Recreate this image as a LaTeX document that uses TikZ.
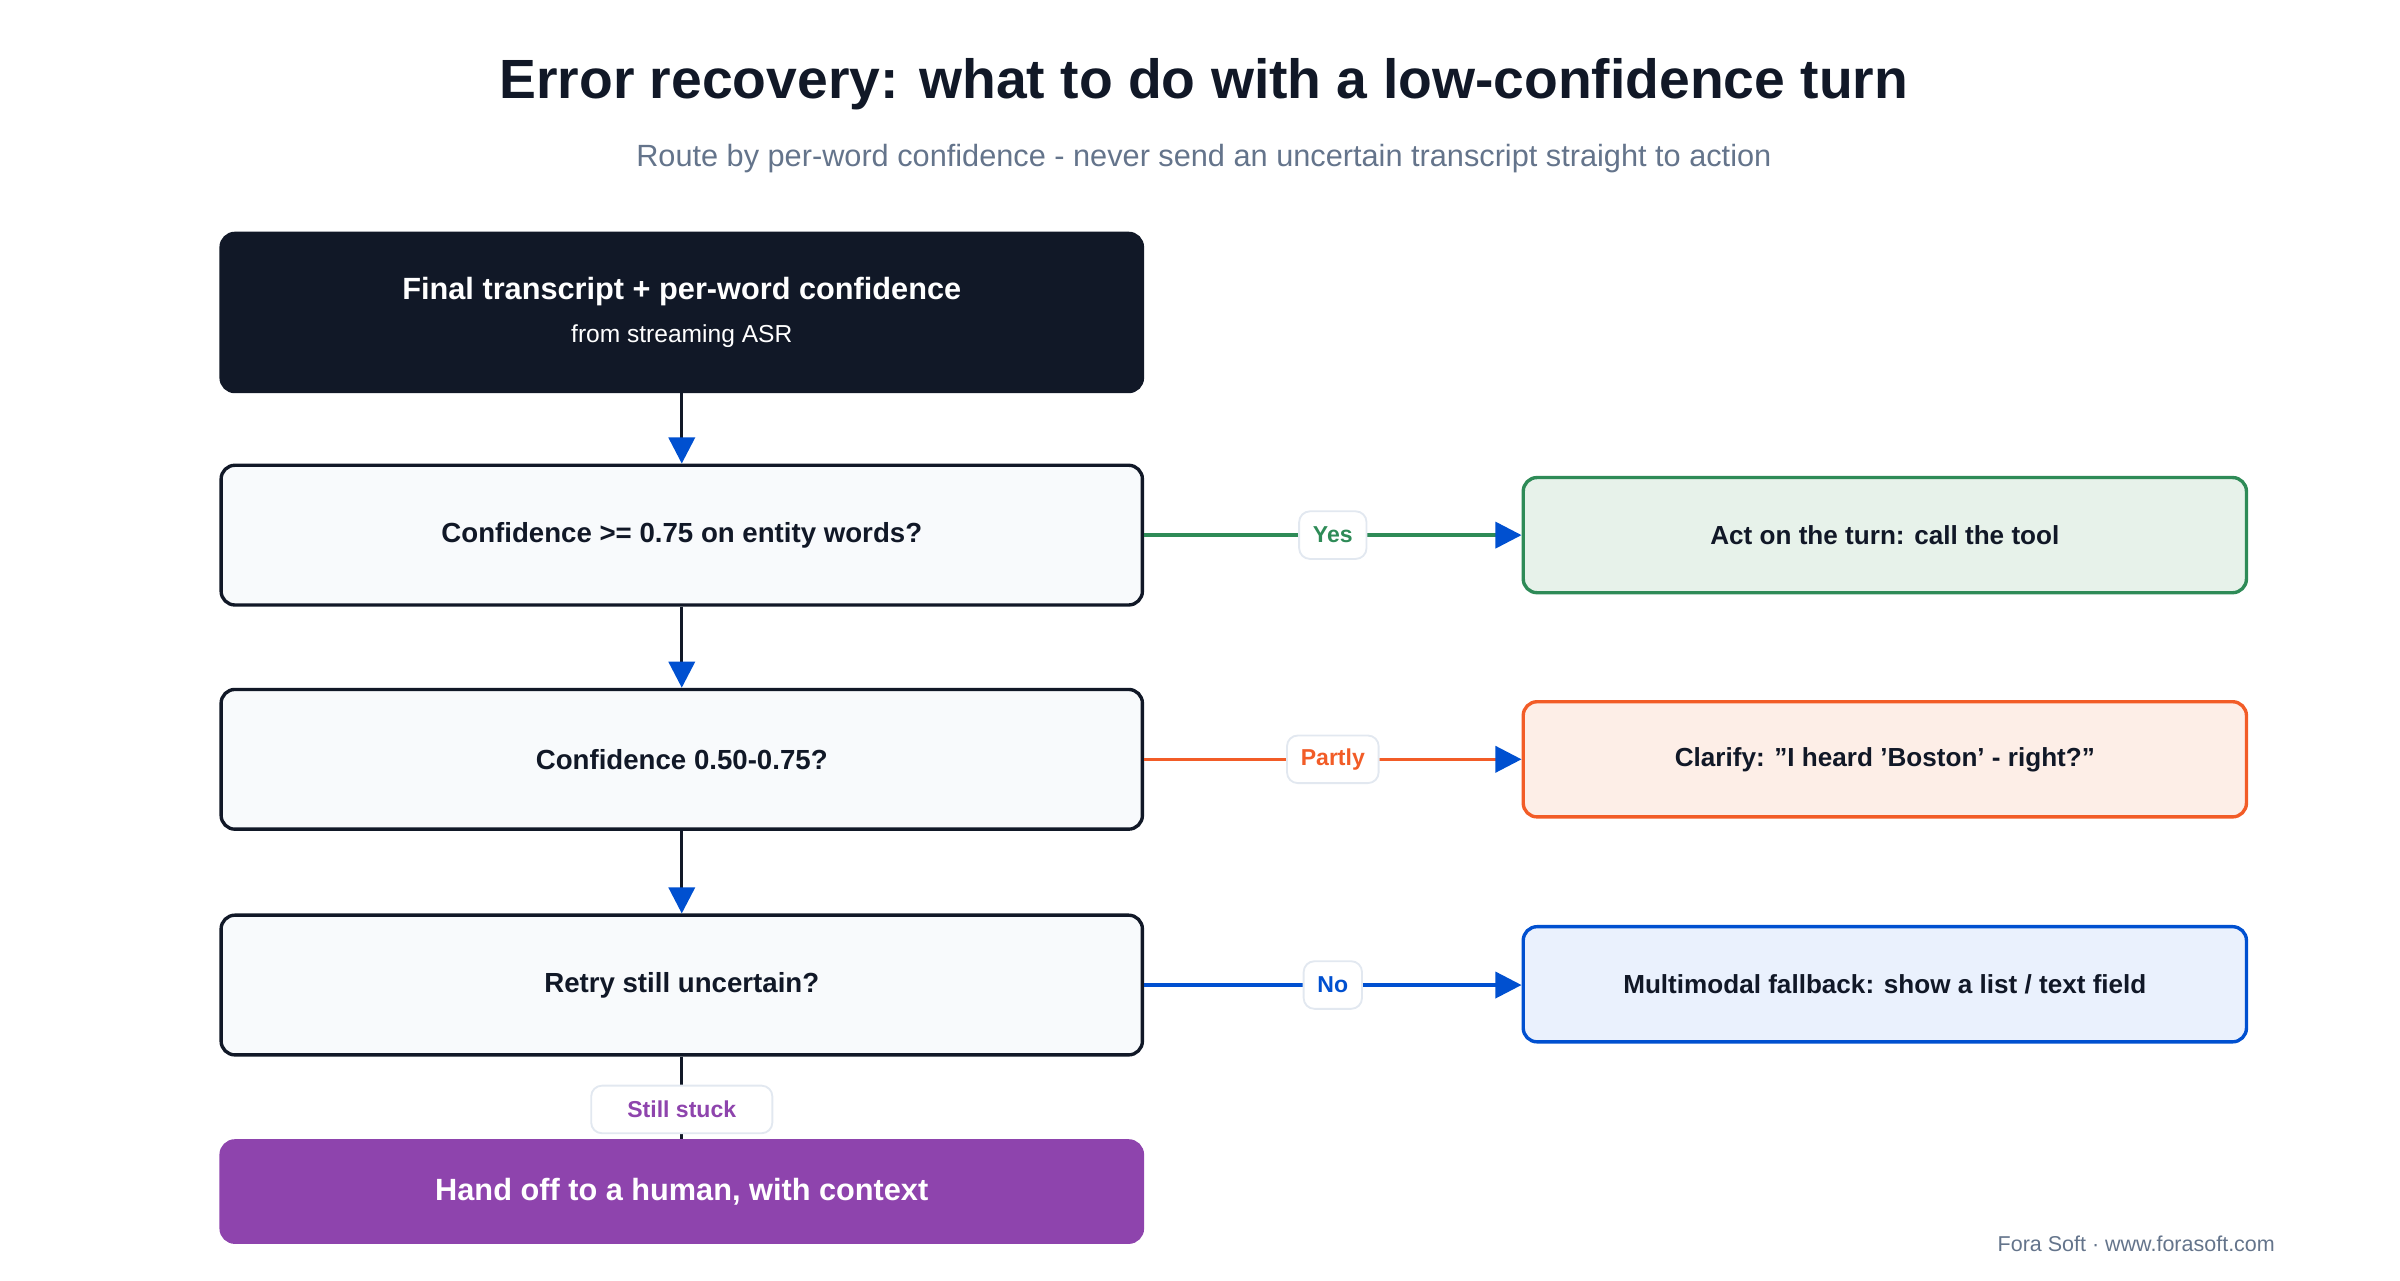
\documentclass[tikz,border=0pt]{standalone}
\usepackage{fontspec}
\setmainfont{Liberation Sans}
\usetikzlibrary{arrows.meta}
\definecolor{ink}{HTML}{111827}
\definecolor{sub}{HTML}{64748B}
\definecolor{pale}{HTML}{F8FAFC}
\definecolor{gr}{HTML}{2E8B57}
\definecolor{grf}{HTML}{E7F2EA}
\definecolor{orr}{HTML}{F25C27}
\definecolor{orf}{HTML}{FDEEE7}
\definecolor{bl}{HTML}{0050D0}
\definecolor{blf}{HTML}{EAF1FD}
\definecolor{pu}{HTML}{8E44AD}
\definecolor{lb}{HTML}{E2E8F0}
\tikzset{
 box/.style={rounded corners=9pt,line width=2.2pt,minimum width=600pt,inner sep=0pt,font=\fontsize{18}{22}\selectfont\bfseries,align=center},
 dec/.style={box,draw=ink,fill=pale,minimum height=91pt,text=ink},
 res/.style={box,minimum width=471pt,minimum height=75pt,text=ink,font=\fontsize{17}{21}\selectfont\bfseries},
 lab/.style={draw=lb,fill=white,line width=1.2pt,rounded corners=7pt,font=\fontsize{15}{18}\selectfont\bfseries,inner xsep=9pt,minimum height=31pt},
 conn/.style={line width=2.2pt,-{Triangle[length=17pt,width=17pt,color=bl]}},
}
\begin{document}
\begin{tikzpicture}[x=1pt,y=-1pt]
\useasboundingbox (0,0) rectangle (1563,834);
\node[font=\fontsize{36}{40}\selectfont\bfseries,text=ink] (t) at (784,55) {Error recovery: what to do with a low-confidence turn};
\node[font=\fontsize{20}{24}\selectfont,text=sub] (s) at (784,103) {Route by per-word confidence - never send an uncertain transcript straight to action};
\node[box,fill=ink,draw=ink,minimum height=103pt,text=white] (a) at (444,203.5) {\fontsize{20}{24}\selectfont Final transcript + per-word confidence\\[6pt]{\fontsize{16}{20}\selectfont\mdseries from streaming ASR}};
\node[dec] (d1) at (444,348.5) {Confidence >= 0.75 on entity words?};
\node[dec] (d2) at (444,494.5) {Confidence 0.50-0.75?};
\node[dec] (d3) at (444,641.5) {Retry still uncertain?};
\node[box,fill=pu,draw=pu,minimum height=66pt,text=white,font=\fontsize{20}{24}\selectfont\bfseries] (h) at (444,776) {Hand off to a human, with context};
\node[res,draw=gr,fill=grf] (r1) at (1227.5,348.5) {Act on the turn: call the tool};
\node[res,draw=orr,fill=orf] (r2) at (1227.5,494.5) {Clarify: "I heard 'Boston' - right?"};
\node[res,draw=bl,fill=blf] (r3) at (1227.5,641) {Multimodal fallback: show a list / text field};
\draw[conn,draw=ink] (a) -- (d1);
\draw[conn,draw=ink] (d1) -- (d2);
\draw[conn,draw=ink] (d2) -- (d3);
\draw[conn,draw=gr] (d1) -- (r1) node[lab,midway,text=gr] {Yes};
\draw[conn,draw=orr] (d2) -- (r2) node[lab,midway,text=orr] {Partly};
\draw[conn,draw=bl] (d3.east) -- (r3.west |- d3.east) node[lab,midway,text=bl] {No};
\draw[line width=2.2pt,draw=ink] (d3) -- (h) node[lab,pos=0.64,text=pu,minimum width=118pt] {Still stuck};
\node[anchor=east,font=\fontsize{14}{16}\selectfont,text=sub] (f) at (1485,810) {Fora Soft · www.forasoft.com};
\end{tikzpicture}
\end{document}
